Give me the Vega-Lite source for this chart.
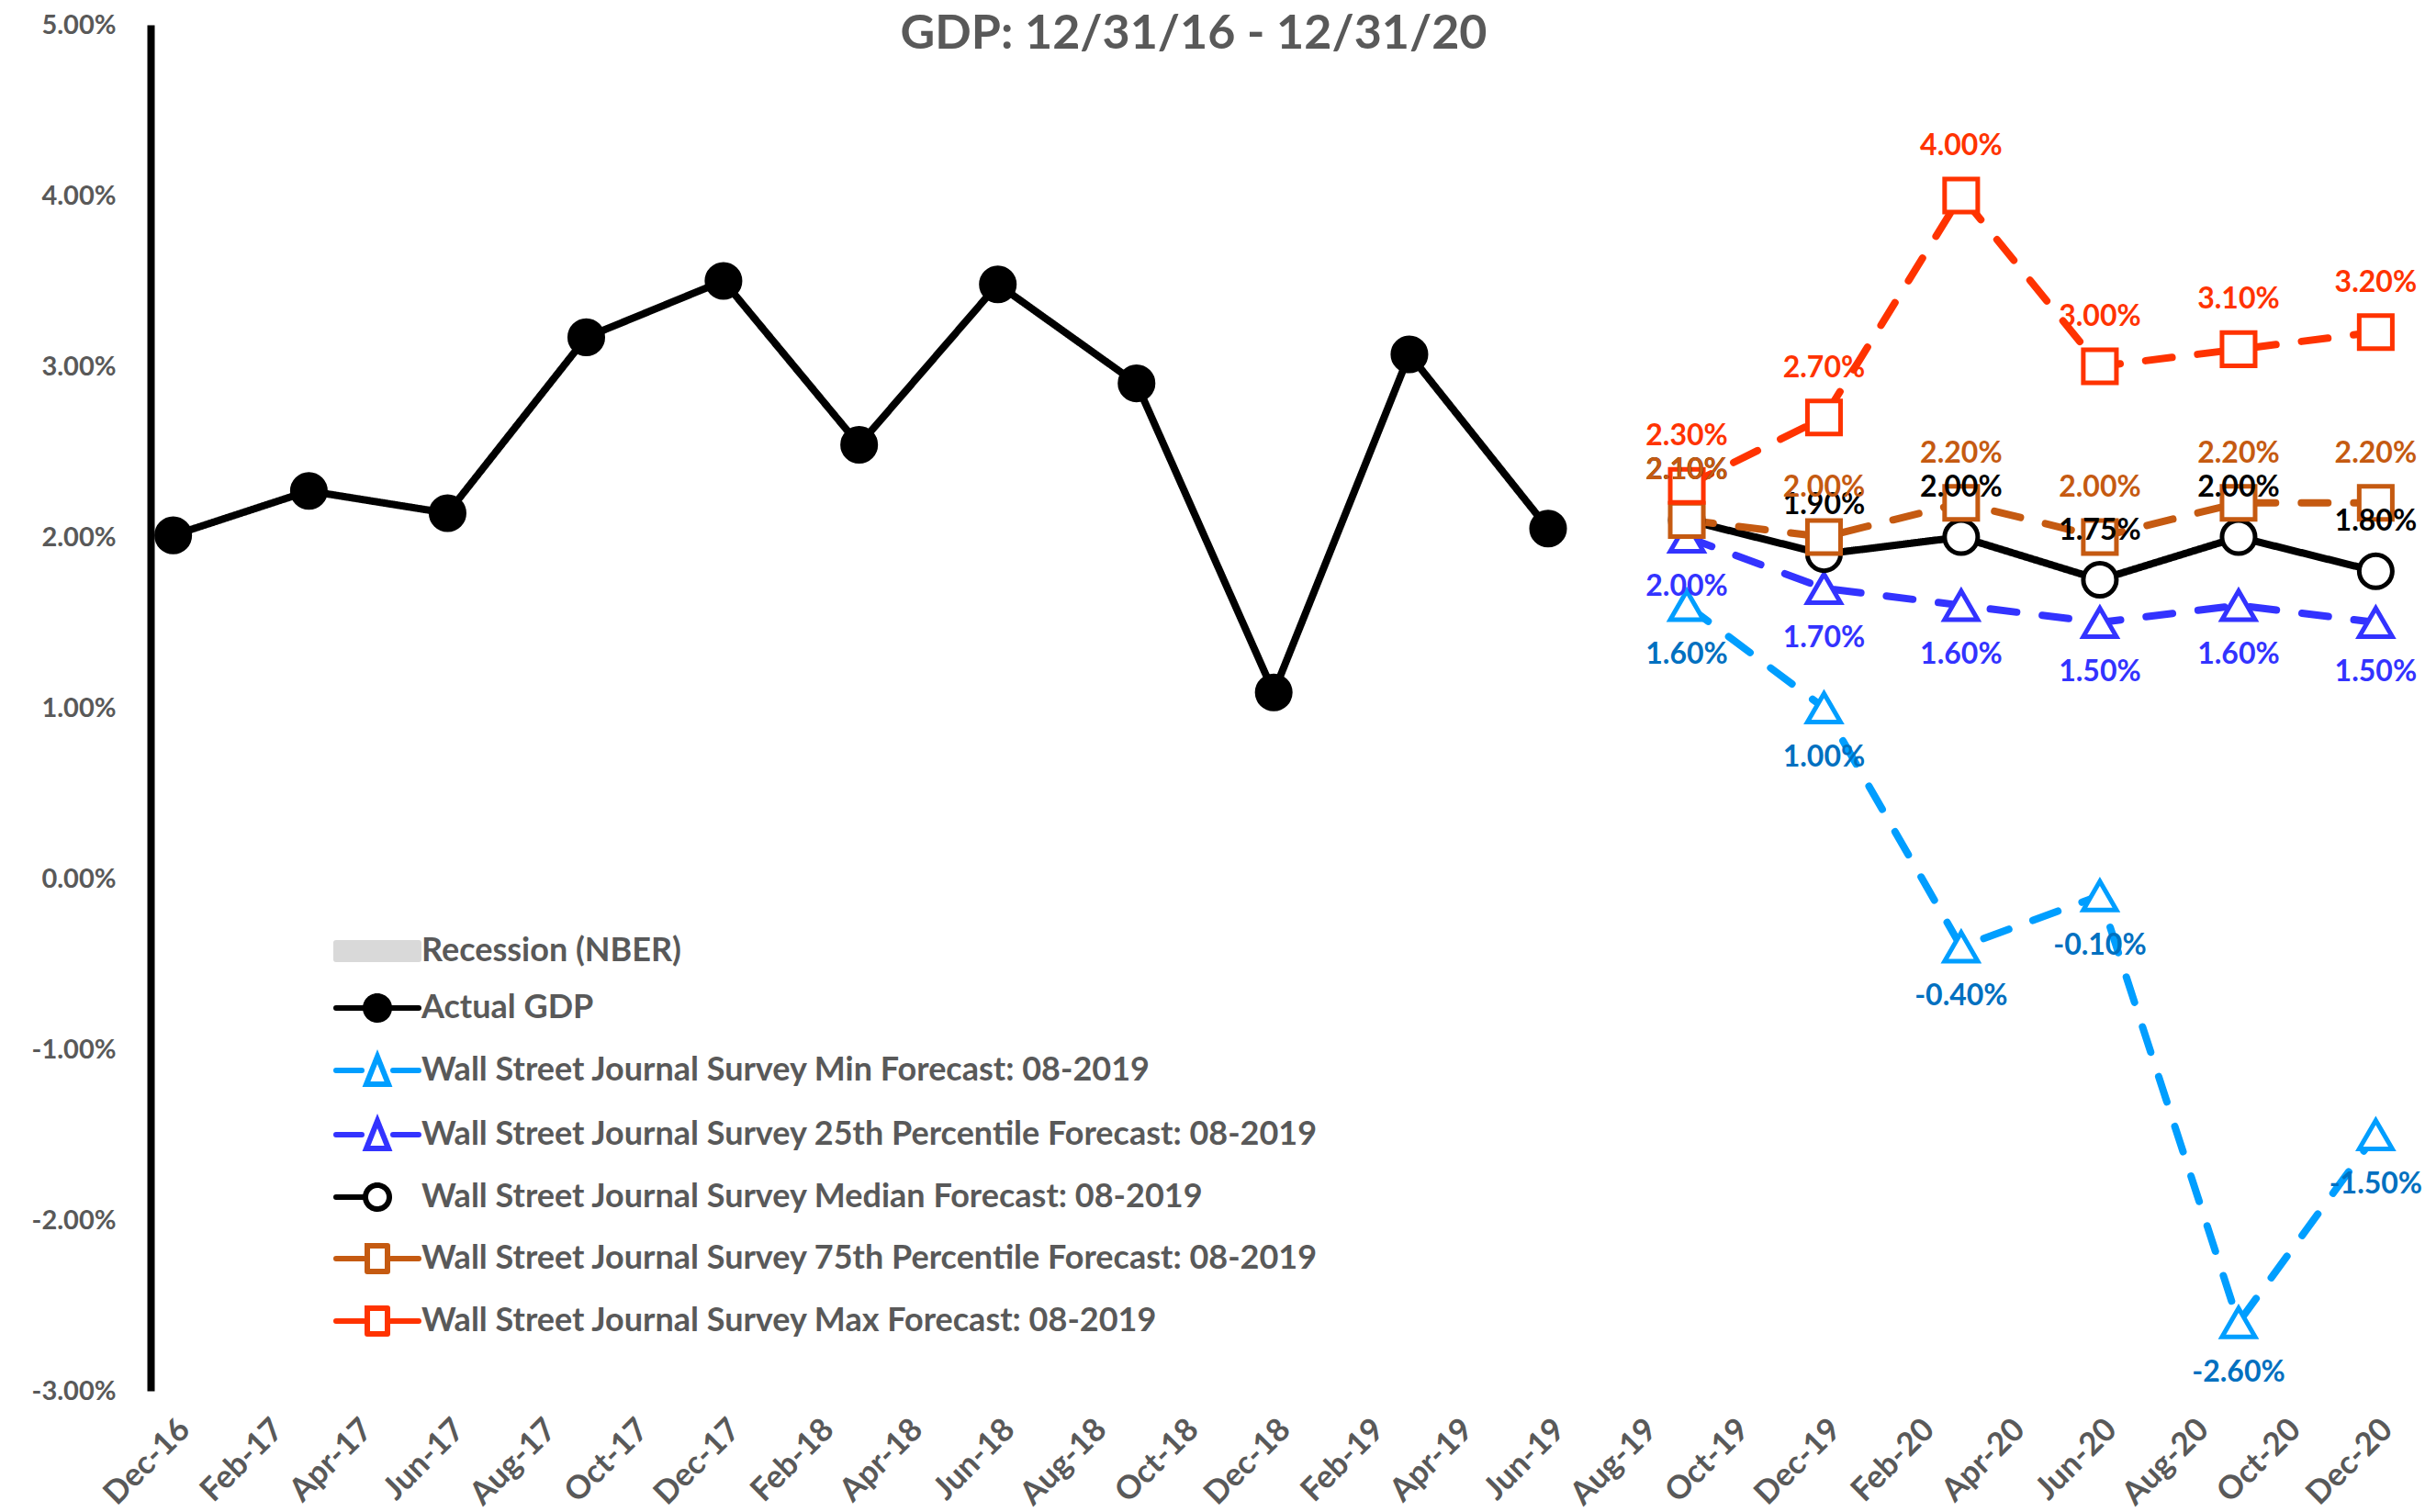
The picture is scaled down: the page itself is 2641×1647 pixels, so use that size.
{
  "$schema": "https://vega.github.io/schema/vega-lite/v6.json",
  "width": 2448,
  "height": 1488,
  "autosize": {"type": "none"},
  "padding": {"left": 164, "top": 27, "right": 29, "bottom": 132},
  "background": "white",
  "title": {
    "text": "GDP: 12/31/16 - 12/31/20",
    "anchor": "middle",
    "frame": "group",
    "dx": -88,
    "dy": 65,
    "offset": -27,
    "baseline": "alphabetic",
    "font": "Lato",
    "fontSize": 52,
    "fontWeight": "bold",
    "color": "#595959"
  },
  "data": {
    "values": [
      {"date": "2016-12-31", "series": "Actual GDP", "value": 0.0201},
      {"date": "2017-03-31", "series": "Actual GDP", "value": 0.0227},
      {"date": "2017-06-30", "series": "Actual GDP", "value": 0.0214},
      {"date": "2017-09-30", "series": "Actual GDP", "value": 0.0317},
      {"date": "2017-12-31", "series": "Actual GDP", "value": 0.0350},
      {"date": "2018-03-31", "series": "Actual GDP", "value": 0.0254},
      {"date": "2018-06-30", "series": "Actual GDP", "value": 0.0348},
      {"date": "2018-09-30", "series": "Actual GDP", "value": 0.0290},
      {"date": "2018-12-31", "series": "Actual GDP", "value": 0.0109},
      {"date": "2019-03-31", "series": "Actual GDP", "value": 0.0307},
      {"date": "2019-06-30", "series": "Actual GDP", "value": 0.0205},
      {"date": "2019-09-30", "series": "Wall Street Journal Survey Min Forecast: 08-2019", "value": 0.016},
      {"date": "2019-12-31", "series": "Wall Street Journal Survey Min Forecast: 08-2019", "value": 0.010},
      {"date": "2020-03-31", "series": "Wall Street Journal Survey Min Forecast: 08-2019", "value": -0.004},
      {"date": "2020-06-30", "series": "Wall Street Journal Survey Min Forecast: 08-2019", "value": -0.001},
      {"date": "2020-09-30", "series": "Wall Street Journal Survey Min Forecast: 08-2019", "value": -0.026},
      {"date": "2020-12-31", "series": "Wall Street Journal Survey Min Forecast: 08-2019", "value": -0.015},
      {"date": "2019-09-30", "series": "Wall Street Journal Survey 25th Percentile Forecast: 08-2019", "value": 0.020},
      {"date": "2019-12-31", "series": "Wall Street Journal Survey 25th Percentile Forecast: 08-2019", "value": 0.017},
      {"date": "2020-03-31", "series": "Wall Street Journal Survey 25th Percentile Forecast: 08-2019", "value": 0.016},
      {"date": "2020-06-30", "series": "Wall Street Journal Survey 25th Percentile Forecast: 08-2019", "value": 0.015},
      {"date": "2020-09-30", "series": "Wall Street Journal Survey 25th Percentile Forecast: 08-2019", "value": 0.016},
      {"date": "2020-12-31", "series": "Wall Street Journal Survey 25th Percentile Forecast: 08-2019", "value": 0.015},
      {"date": "2019-09-30", "series": "Wall Street Journal Survey Median Forecast: 08-2019", "value": 0.021},
      {"date": "2019-12-31", "series": "Wall Street Journal Survey Median Forecast: 08-2019", "value": 0.019},
      {"date": "2020-03-31", "series": "Wall Street Journal Survey Median Forecast: 08-2019", "value": 0.020},
      {"date": "2020-06-30", "series": "Wall Street Journal Survey Median Forecast: 08-2019", "value": 0.0175},
      {"date": "2020-09-30", "series": "Wall Street Journal Survey Median Forecast: 08-2019", "value": 0.020},
      {"date": "2020-12-31", "series": "Wall Street Journal Survey Median Forecast: 08-2019", "value": 0.018},
      {"date": "2019-09-30", "series": "Wall Street Journal Survey 75th Percentile Forecast: 08-2019", "value": 0.021},
      {"date": "2019-12-31", "series": "Wall Street Journal Survey 75th Percentile Forecast: 08-2019", "value": 0.020},
      {"date": "2020-03-31", "series": "Wall Street Journal Survey 75th Percentile Forecast: 08-2019", "value": 0.022},
      {"date": "2020-06-30", "series": "Wall Street Journal Survey 75th Percentile Forecast: 08-2019", "value": 0.020},
      {"date": "2020-09-30", "series": "Wall Street Journal Survey 75th Percentile Forecast: 08-2019", "value": 0.022},
      {"date": "2020-12-31", "series": "Wall Street Journal Survey 75th Percentile Forecast: 08-2019", "value": 0.022},
      {"date": "2019-09-30", "series": "Wall Street Journal Survey Max Forecast: 08-2019", "value": 0.023},
      {"date": "2019-12-31", "series": "Wall Street Journal Survey Max Forecast: 08-2019", "value": 0.027},
      {"date": "2020-03-31", "series": "Wall Street Journal Survey Max Forecast: 08-2019", "value": 0.040},
      {"date": "2020-06-30", "series": "Wall Street Journal Survey Max Forecast: 08-2019", "value": 0.030},
      {"date": "2020-09-30", "series": "Wall Street Journal Survey Max Forecast: 08-2019", "value": 0.031},
      {"date": "2020-12-31", "series": "Wall Street Journal Survey Max Forecast: 08-2019", "value": 0.032}
    ]
  },
  "encoding": {
    "x": {
      "field": "date",
      "type": "temporal",
      "timeUnit": "utcyearmonth",
      "scale": {
        "type": "utc",
        "domain": [
          {"year": 2016, "month": 11, "date": 16, "utc": true},
          {"year": 2020, "month": 12, "date": 16, "utc": true}
        ]
      },
      "axis": {
        "title": null,
        "values": [
          {"year": 2016, "month": 12, "date": 1, "utc": true},
          {"year": 2017, "month": 2, "date": 1, "utc": true},
          {"year": 2017, "month": 4, "date": 1, "utc": true},
          {"year": 2017, "month": 6, "date": 1, "utc": true},
          {"year": 2017, "month": 8, "date": 1, "utc": true},
          {"year": 2017, "month": 10, "date": 1, "utc": true},
          {"year": 2017, "month": 12, "date": 1, "utc": true},
          {"year": 2018, "month": 2, "date": 1, "utc": true},
          {"year": 2018, "month": 4, "date": 1, "utc": true},
          {"year": 2018, "month": 6, "date": 1, "utc": true},
          {"year": 2018, "month": 8, "date": 1, "utc": true},
          {"year": 2018, "month": 10, "date": 1, "utc": true},
          {"year": 2018, "month": 12, "date": 1, "utc": true},
          {"year": 2019, "month": 2, "date": 1, "utc": true},
          {"year": 2019, "month": 4, "date": 1, "utc": true},
          {"year": 2019, "month": 6, "date": 1, "utc": true},
          {"year": 2019, "month": 8, "date": 1, "utc": true},
          {"year": 2019, "month": 10, "date": 1, "utc": true},
          {"year": 2019, "month": 12, "date": 1, "utc": true},
          {"year": 2020, "month": 2, "date": 1, "utc": true},
          {"year": 2020, "month": 4, "date": 1, "utc": true},
          {"year": 2020, "month": 6, "date": 1, "utc": true},
          {"year": 2020, "month": 8, "date": 1, "utc": true},
          {"year": 2020, "month": 10, "date": 1, "utc": true},
          {"year": 2020, "month": 12, "date": 1, "utc": true}
        ],
        "labelExpr": "utcFormat(datum.value, '%b-%y')",
        "labelAngle": -45,
        "labelFont": "Lato",
        "labelFontSize": 35,
        "labelFontWeight": "bold",
        "labelColor": "#595959",
        "labelPadding": 24,
        "labelOverlap": false,
        "labelFlush": false,
        "labelBound": false,
        "ticks": false,
        "domain": false,
        "grid": false
      }
    },
    "y": {
      "field": "value",
      "type": "quantitative",
      "scale": {"domain": [-0.03, 0.05], "nice": false, "zero": false},
      "axis": {
        "title": null,
        "values": [-0.03, -0.02, -0.01, 0, 0.01, 0.02, 0.03, 0.04, 0.05],
        "format": ".2%",
        "labelFont": "Lato",
        "labelFontSize": 29,
        "labelFontWeight": "bold",
        "labelColor": "#595959",
        "labelPadding": 38,
        "ticks": false,
        "grid": false,
        "domain": true,
        "domainColor": "#000000",
        "domainWidth": 8
      }
    }
  },
  "layer": [
    {
      "data": {"values": [{}]},
      "mark": {"type": "rule", "color": "#000000", "strokeWidth": 8},
      "encoding": {"x": null, "y": {"datum": 0}}
    },
    {
      "mark": {"type": "line", "strokeWidth": 8, "strokeCap": "round", "strokeJoin": "round"},
      "encoding": {
        "color": {
          "field": "series",
          "type": "nominal",
          "scale": {
            "domain": [
              "Recession (NBER)",
              "Actual GDP",
              "Wall Street Journal Survey Min Forecast: 08-2019",
              "Wall Street Journal Survey 25th Percentile Forecast: 08-2019",
              "Wall Street Journal Survey Median Forecast: 08-2019",
              "Wall Street Journal Survey 75th Percentile Forecast: 08-2019",
              "Wall Street Journal Survey Max Forecast: 08-2019"
            ],
            "range": ["#D9D9D9", "#000000", "#009EFF", "#3333FF", "#000000", "#C55A11", "#FF3300"]
          },
          "legend": {
            "title": null,
            "orient": "none",
            "legendX": 224,
            "legendY": 986,
            "padding": 0,
            "symbolSize": 1600,
            "symbolStrokeWidth": 6,
            "labelFont": "Lato",
            "labelFontSize": 36,
            "labelFontWeight": "bold",
            "labelColor": "#595959",
            "labelOffset": 25,
            "labelLimit": 3000,
            "rowPadding": 16,
            "encode": {
              "symbols": {
                "update": {
                  "shape": {"signal": "datum.value == 'Recession (NBER)' ? 'M-2.25,-0.45H2.25V0.45H-2.25Z' : datum.value == 'Actual GDP' ? 'M-2.25,0H2.25M-0.65,0A0.65,0.65,0,1,0,0.65,0A0.65,0.65,0,1,0,-0.65,0Z' : indexof(datum.value, 'Median') >= 0 ? 'M-2.25,0H-0.65M-0.65,0A0.65,0.65,0,1,0,0.65,0A0.65,0.65,0,1,0,-0.65,0Z' : (indexof(datum.value, 'Min') >= 0 || indexof(datum.value, '25th') >= 0) ? 'M-2.25,0H-0.85M0.85,0H2.25M0,-0.75L0.6,0.75H-0.6Z' : 'M-2.25,0H-0.75M0.75,0H2.25M-0.55,-0.7H0.55V0.7H-0.55Z'"},
                  "fill": {"signal": "datum.value == 'Recession (NBER)' ? '#D9D9D9' : datum.value == 'Actual GDP' ? '#000000' : '#FFFFFF'"},
                  "stroke": {"scale": "color", "field": "value"},
                  "strokeWidth": {"value": 6},
                  "strokeCap": {"value": "round"},
                  "opacity": {"value": 1},
                  "fillOpacity": {"value": 1},
                  "strokeDash": {"value": [1, 0]}
                }
              }
            }
          }
        },
        "strokeDash": {
          "field": "series",
          "type": "nominal",
          "scale": {
            "domain": [
              "Actual GDP",
              "Wall Street Journal Survey Min Forecast: 08-2019",
              "Wall Street Journal Survey 25th Percentile Forecast: 08-2019",
              "Wall Street Journal Survey Median Forecast: 08-2019",
              "Wall Street Journal Survey 75th Percentile Forecast: 08-2019",
              "Wall Street Journal Survey Max Forecast: 08-2019"
            ],
            "range": [[1, 0], [29, 28], [29, 28], [1, 0], [29, 28], [29, 28]]
          },
          "legend": null
        }
      }
    },
    {
      "mark": {"type": "point", "filled": false, "size": 1300, "strokeWidth": 5, "opacity": 1},
      "encoding": {
        "color": {"field": "series", "type": "nominal"},
        "shape": {
          "field": "series",
          "type": "nominal",
          "scale": {
            "domain": [
              "Actual GDP",
              "Wall Street Journal Survey Min Forecast: 08-2019",
              "Wall Street Journal Survey 25th Percentile Forecast: 08-2019",
              "Wall Street Journal Survey Median Forecast: 08-2019",
              "Wall Street Journal Survey 75th Percentile Forecast: 08-2019",
              "Wall Street Journal Survey Max Forecast: 08-2019"
            ],
            "range": ["circle", "triangle-up", "triangle-up", "circle", "square", "square"]
          },
          "legend": null
        },
        "fill": {
          "condition": {"test": "datum.series === 'Actual GDP'", "value": "#000000"},
          "value": "#FFFFFF"
        }
      }
    },
    {
      "transform": [
        {"filter": {"field": "series", "oneOf": [
          "Wall Street Journal Survey Median Forecast: 08-2019",
          "Wall Street Journal Survey 75th Percentile Forecast: 08-2019",
          "Wall Street Journal Survey Max Forecast: 08-2019"
        ]}}
      ],
      "mark": {"type": "text", "dy": -54, "font": "Lato", "fontSize": 32, "fontWeight": "bold", "align": "center", "baseline": "middle"},
      "encoding": {
        "text": {"field": "value", "type": "quantitative", "format": ".2%"},
        "color": {
          "condition": [
            {"test": "datum.series === 'Wall Street Journal Survey Max Forecast: 08-2019'", "value": "#FF3300"},
            {"test": "datum.series === 'Wall Street Journal Survey 75th Percentile Forecast: 08-2019'", "value": "#C55A11"}
          ],
          "value": "#000000"
        }
      }
    },
    {
      "transform": [
        {"filter": {"field": "series", "oneOf": [
          "Wall Street Journal Survey Min Forecast: 08-2019",
          "Wall Street Journal Survey 25th Percentile Forecast: 08-2019"
        ]}}
      ],
      "mark": {"type": "text", "dy": 54, "font": "Lato", "fontSize": 32, "fontWeight": "bold", "align": "center", "baseline": "middle"},
      "encoding": {
        "text": {"field": "value", "type": "quantitative", "format": ".2%"},
        "color": {
          "condition": [
            {"test": "datum.series === 'Wall Street Journal Survey Min Forecast: 08-2019'", "value": "#0070C0"}
          ],
          "value": "#3333FF"
        }
      }
    }
  ],
  "config": {
    "view": {"stroke": null},
    "font": "Lato",
    "locale": {
      "number": {
        "decimal": ".",
        "thousands": ",",
        "grouping": [3],
        "currency": ["$", ""],
        "minus": "-"
      }
    }
  }
}
